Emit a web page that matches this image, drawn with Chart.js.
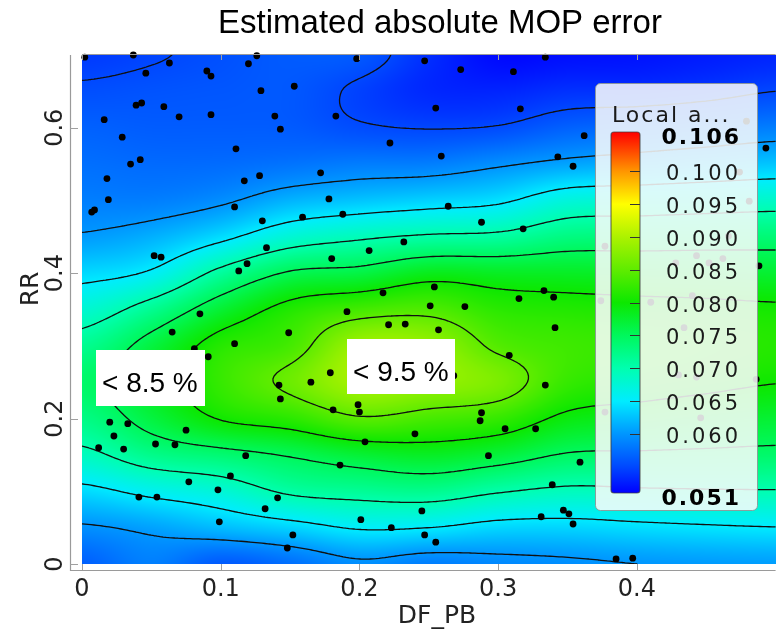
<!DOCTYPE html>
<html><head><meta charset="utf-8">
<script src="https://cdn.jsdelivr.net/npm/chart.js@4.4.1/dist/chart.umd.min.js"></script>
<style>html,body{margin:0;padding:0;background:#fff;overflow:hidden}#wrap{width:779px;height:629px}</style>
</head><body><div id="wrap"><canvas id="c" width="779" height="629"></canvas></div>
<script>
// ---------------- data ----------------
const chartTitle = 'Estimated absolute MOP error';
const xAxisTitle = 'DF_PB';
const yAxisTitle = 'RR';
const xTickValues = [0, 0.1, 0.2, 0.3, 0.4];
const yTickValues = [0, 0.2, 0.4, 0.6];
const xTickLabels = ['0', '0.1', '0.2', '0.3', '0.4'];
const yTickLabels = ['0', '0.2', '0.4', '0.6'];

// sample points (DF_PB, RR)
const pointX = [0.002,0.037,0.063,0.046,0.090,0.093,0.126,0.120,0.198,0.129,0.153,0.039,0.043,0.059,0.070,0.093,0.139,0.183,0.143,0.016,
0.029,0.111,0.035,0.042,0.018,0.117,0.128,0.172,0.019,0.009,0.007,0.110,0.178,0.130,0.159,0.188,0.052,0.057,0.133,0.180,
0.207,0.119,0.113,0.247,0.273,0.311,0.334,0.255,0.316,0.222,0.259,0.343,0.354,0.362,0.264,0.288,0.318,0.232,0.217,0.254,
0.333,0.340,0.315,0.085,0.065,0.110,0.081,0.091,0.149,0.191,0.142,0.165,0.179,0.143,0.181,0.199,0.200,0.020,0.033,0.023,
0.012,0.030,0.053,0.067,0.075,0.118,0.204,0.186,0.107,0.077,0.098,0.141,0.041,0.054,0.132,0.099,0.201,0.152,0.148,0.251,
0.276,0.221,0.233,0.257,0.341,0.308,0.268,0.334,0.288,0.287,0.305,0.327,0.240,0.293,0.359,0.339,0.245,0.347,0.351,0.331,
0.354,0.223,0.247,0.255,0.385,0.397,0.486,0.488,0.493,0.479,0.474,0.481,0.466,0.377,0.443,0.428,0.462,0.452,0.440,0.410,
0.374,0.434,0.430,0.443,0.446,0.377];
const pointY = [0.697,0.700,0.689,0.675,0.678,0.671,0.699,0.688,0.695,0.651,0.657,0.631,0.634,0.629,0.615,0.618,0.616,0.616,0.598,0.611,
0.587,0.571,0.550,0.556,0.530,0.527,0.534,0.538,0.501,0.487,0.484,0.491,0.502,0.472,0.477,0.481,0.424,0.422,0.435,0.420,
0.431,0.413,0.403,0.692,0.680,0.677,0.697,0.627,0.626,0.579,0.561,0.560,0.547,0.589,0.492,0.470,0.461,0.443,0.373,0.381,
0.376,0.367,0.365,0.344,0.319,0.303,0.296,0.285,0.318,0.347,0.246,0.250,0.263,0.227,0.212,0.219,0.209,0.195,0.193,0.176,
0.160,0.158,0.165,0.164,0.184,0.149,0.168,0.136,0.121,0.113,0.102,0.091,0.092,0.092,0.076,0.058,0.061,0.040,0.022,0.355,
0.354,0.329,0.330,0.322,0.325,0.287,0.259,0.246,0.208,0.197,0.186,0.186,0.179,0.149,0.140,0.109,0.073,0.074,0.069,0.065,
0.055,0.050,0.040,0.030,0.007,0.008,0.254,0.410,0.572,0.609,0.539,0.499,0.451,0.437,0.424,0.414,0.420,0.414,0.369,0.360,
0.362,0.325,0.260,0.257,0.201,0.209];

// estimated error field on a regular grid
const gridX = [0, 0.05, 0.10, 0.15, 0.20, 0.25, 0.30, 0.35, 0.40, 0.45, 0.50];
const gridY = [0, 0.05, 0.10, 0.15, 0.20, 0.25, 0.30, 0.35, 0.40, 0.45, 0.50, 0.55, 0.60, 0.65, 0.70];
// one row per gridY value, one column per gridX value
const errorGrid = [
 [0.0565,0.0585,0.0562,0.0575,0.0595,0.0585,0.0591,0.0595,0.0600,0.0603,0.0605],
 [0.0596,0.0607,0.0622,0.0636,0.0653,0.0650,0.0638,0.0637,0.0642,0.0646,0.0649],
 [0.0640,0.0660,0.0676,0.0706,0.0715,0.0720,0.0703,0.0692,0.0695,0.0697,0.0698],
 [0.0690,0.0722,0.0737,0.0753,0.0771,0.0780,0.0768,0.0747,0.0745,0.0743,0.0741],
 [0.0725,0.0765,0.0802,0.0818,0.0846,0.0835,0.0824,0.0792,0.0785,0.0778,0.0772],
 [0.0742,0.0780,0.0825,0.0858,0.0895,0.0885,0.0868,0.0825,0.0815,0.0808,0.0801],
 [0.0718,0.0765,0.0815,0.0834,0.0890,0.0885,0.0843,0.0830,0.0825,0.0820,0.0815],
 [0.0678,0.0718,0.0772,0.0812,0.0833,0.0840,0.0818,0.0813,0.0810,0.0808,0.0805],
 [0.0639,0.0655,0.0711,0.0754,0.0763,0.0785,0.0781,0.0780,0.0778,0.0776,0.0773],
 [0.0603,0.0615,0.0641,0.0677,0.0694,0.0705,0.0709,0.0728,0.0730,0.0733,0.0735],
 [0.0585,0.0585,0.0595,0.0617,0.0627,0.0635,0.0644,0.0672,0.0676,0.0680,0.0684],
 [0.0575,0.0572,0.0573,0.0578,0.0584,0.0585,0.0596,0.0608,0.0615,0.0622,0.0628],
 [0.0566,0.0563,0.0563,0.0562,0.0553,0.0549,0.0552,0.0566,0.0572,0.0578,0.0585],
 [0.0554,0.0557,0.0559,0.0560,0.0546,0.0532,0.0530,0.0537,0.0537,0.0542,0.0550],
 [0.0542,0.0548,0.0555,0.0562,0.0560,0.0535,0.0515,0.0518,0.0520,0.0525,0.0530]
];
const contourLevels = [0.055, 0.060, 0.065, 0.070, 0.075, 0.080, 0.085];

const legendTitle = 'Local a...';
const legendMin = 0.051, legendMax = 0.106;
const legendTickValues = [0.100, 0.095, 0.090, 0.085, 0.080, 0.075, 0.070, 0.065, 0.060];
const legendTickLabels = ['0.100','0.095','0.090','0.085','0.080','0.075','0.070','0.065','0.060'];
const legendEndLabels = ['0.106', '0.051'];

const boxTexts = ['< 8.5 %', '< 9.5 %'];
const boxAnchorX = [0.010, 0.191];
const boxAnchorY = [0.294, 0.309];

// ---------------- helpers ----------------
const colorStops = [
 [0.051, 0, 0, 255],[0.055, 0, 72, 255],[0.060, 0, 150, 255],[0.065, 0, 236, 255],
 [0.070, 0, 255, 175],[0.075, 0, 248, 92],[0.080, 12, 232, 0],[0.085, 95, 236, 0],
 [0.090, 172, 242, 0],[0.095, 255, 255, 0],[0.100, 255, 150, 0],[0.106, 255, 0, 0]];
function colorFor(v){
  if (v <= colorStops[0][0]) return colorStops[0].slice(1);
  for (let k=1;k<colorStops.length;k++){
    if (v <= colorStops[k][0]){
      const a=colorStops[k-1], b=colorStops[k], t=(v-a[0])/(b[0]-a[0]);
      return [a[1]+(b[1]-a[1])*t, a[2]+(b[2]-a[2])*t, a[3]+(b[3]-a[3])*t];
    }
  }
  return colorStops[colorStops.length-1].slice(1);
}
function cr(p0,p1,p2,p3,t){
  return p1 + 0.5*t*(p2-p0 + t*(2*p0-5*p1+4*p2-p3 + t*(3*(p1-p2)+p3-p0)));
}
function fieldAt(x,y){
  const nx=gridX.length, ny=gridY.length;
  const dx=gridX[1]-gridX[0], dy=gridY[1]-gridY[0];
  let gx=(x-gridX[0])/dx, gy=(y-gridY[0])/dy;
  gx=Math.max(0,Math.min(nx-1,gx)); gy=Math.max(0,Math.min(ny-1,gy));
  let i=Math.min(nx-2,Math.floor(gx)), j=Math.min(ny-2,Math.floor(gy));
  const tx=gx-i, ty=gy-j;
  const cl=(v,m)=>Math.max(0,Math.min(m-1,v));
  const rows=[];
  for (let r=-1;r<=2;r++){
    const row=errorGrid[cl(j+r,ny)];
    rows.push(cr(row[cl(i-1,nx)],row[i],row[cl(i+1,nx)],row[cl(i+2,nx)],tx));
  }
  return cr(rows[0],rows[1],rows[2],rows[3],ty);
}

const fieldPlugin = {
  id:'field',
  beforeDatasetsDraw(chart){
    const {ctx, chartArea:a, scales:{x, y}} = chart;
    const w=Math.round(a.right-a.left), h=Math.round(a.bottom-a.top);
    const img=ctx.createImageData(w,h);
    for (let py=0;py<h;py++){
      const yv=y.getValueForPixel(a.top+py+0.5);
      for (let px=0;px<w;px++){
        const xv=x.getValueForPixel(a.left+px+0.5);
        const c=colorFor(fieldAt(xv,yv));
        const o=(py*w+px)*4;
        img.data[o]=c[0]; img.data[o+1]=c[1]; img.data[o+2]=c[2]; img.data[o+3]=255;
      }
    }
    ctx.putImageData(img, Math.round(a.left), Math.round(a.top));
    // contours (marching squares)
    const step=3;
    const pxs=[], pys=[];
    for (let p=a.left;p<a.right;p+=step) pxs.push(p); pxs.push(a.right);
    for (let p=a.top;p<a.bottom;p+=step) pys.push(p); pys.push(a.bottom);
    const nx=pxs.length, ny=pys.length;
    const xv=pxs.map(p=>x.getValueForPixel(p)), yv=pys.map(p=>y.getValueForPixel(p));
    const V=new Float64Array(nx*ny);
    for (let j=0;j<ny;j++) for (let i=0;i<nx;i++) V[j*nx+i]=fieldAt(xv[i],yv[j]);
    ctx.save();
    ctx.beginPath(); ctx.rect(a.left,a.top,a.right-a.left,a.bottom-a.top); ctx.clip();
    ctx.strokeStyle='#101010'; ctx.lineWidth=1.3; ctx.lineJoin='round'; ctx.lineCap='round';
    for (const L of contourLevels){
      ctx.beginPath();
      for (let j=0;j<ny-1;j++) for (let i=0;i<nx-1;i++){
        const A=V[j*nx+i], B=V[j*nx+i+1], C=V[(j+1)*nx+i+1], D=V[(j+1)*nx+i];
        const idx=(A>L?8:0)|(B>L?4:0)|(C>L?2:0)|(D>L?1:0);
        if (idx===0||idx===15) continue;
        const x0=pxs[i], x1=pxs[i+1], y0=pys[j], y1=pys[j+1];
        const T=()=>[x0+(x1-x0)*(L-A)/(B-A), y0];
        const R=()=>[x1, y0+(y1-y0)*(L-B)/(C-B)];
        const Bo=()=>[x0+(x1-x0)*(L-D)/(C-D), y1];
        const Le=()=>[x0, y0+(y1-y0)*(L-A)/(D-A)];
        const seg=(p,q)=>{ctx.moveTo(p[0],p[1]); ctx.lineTo(q[0],q[1]);};
        const ctr=(A+B+C+D)/4;
        switch(idx){
          case 1: case 14: seg(Le(),Bo()); break;
          case 2: case 13: seg(Bo(),R()); break;
          case 3: case 12: seg(Le(),R()); break;
          case 4: case 11: seg(T(),R()); break;
          case 6: case 9: seg(T(),Bo()); break;
          case 7: case 8: seg(Le(),T()); break;
          case 5: if (ctr>L){seg(Le(),T()); seg(Bo(),R());} else {seg(T(),R()); seg(Le(),Bo());} break;
          case 10: if (ctr>L){seg(T(),R()); seg(Le(),Bo());} else {seg(Le(),T()); seg(Bo(),R());} break;
        }
      }
      ctx.stroke();
    }
    ctx.restore();
  }
};

const overlayPlugin = {
  id:'overlay',
  afterDatasetsDraw(chart){
    const {ctx, chartArea:a, scales:{x, y}} = chart;
    ctx.save();
    // label boxes
    ctx.font='28px "Liberation Sans", Arial, sans-serif';
    ctx.textBaseline='alphabetic'; ctx.textAlign='left';
    const boxW=[109,108], boxH=[56,55];
    for (let k=0;k<boxTexts.length;k++){
      const bx=Math.round(x.getPixelForValue(boxAnchorX[k])), by=Math.round(y.getPixelForValue(boxAnchorY[k]));
      ctx.fillStyle='#ffffff'; ctx.fillRect(bx,by,boxW[k],boxH[k]);
      ctx.fillStyle='#000'; ctx.fillText(boxTexts[k], bx+6, by+42);
    }
    // legend panel
    const lx=595, ly=83, lw=162, lh=427;
    ctx.beginPath(); ctx.roundRect(lx+0.5,ly+0.5,lw,lh,5);
    ctx.fillStyle='rgba(249,251,251,0.87)'; ctx.fill();
    ctx.strokeStyle='rgba(140,150,150,0.9)'; ctx.lineWidth=1; ctx.stroke();
    ctx.fillStyle='#1a1a1a';
    ctx.font='22px "DejaVu Sans", sans-serif'; ctx.letterSpacing='2px';
    ctx.textBaseline='alphabetic'; ctx.textAlign='left';
    ctx.fillText(legendTitle, 612, 122);
    const bx=611, by=132, bw=29, bh=361;
    const g=ctx.createLinearGradient(0,by+bh,0,by);
    for (const s of colorStops){
      const t=(s[0]-legendMin)/(legendMax-legendMin);
      g.addColorStop(Math.max(0,Math.min(1,t)), `rgb(${s[1]},${s[2]},${s[3]})`);
    }
    ctx.beginPath(); ctx.roundRect(bx,by,bw,bh,3); ctx.fillStyle=g; ctx.fill();
    ctx.strokeStyle='rgba(60,60,60,0.7)'; ctx.lineWidth=1.2; ctx.stroke();
    const vy=v=>by+(legendMax-v)/(legendMax-legendMin)*bh;
    ctx.strokeStyle='#333'; ctx.lineWidth=1;
    ctx.font='21px "DejaVu Sans", sans-serif'; ctx.letterSpacing='3px';
    ctx.textBaseline='middle'; ctx.textAlign='right';
    ctx.fillStyle='#1a1a1a';
    legendTickValues.forEach((v,k)=>{
      const py=Math.round(vy(v))+0.5;
      ctx.beginPath(); ctx.moveTo(bx+bw-10,py); ctx.lineTo(bx+bw,py); ctx.stroke();
      ctx.fillText(legendTickLabels[k], 741, py+3);
    });
    ctx.font='bold 22px "DejaVu Sans", sans-serif'; ctx.letterSpacing='2px';
    ctx.fillStyle='#000';
    ctx.fillText(legendEndLabels[0], 741, by+6);
    ctx.fillText(legendEndLabels[1], 741, by+bh+6);
    ctx.letterSpacing='0px';
    ctx.restore();
  },
  afterDraw(chart){
    const {ctx, chartArea:a, scales:{x, y}} = chart;
    ctx.save();
    // frame
    ctx.strokeStyle='#9a9a9a'; ctx.lineWidth=1.2;
    ctx.beginPath();
    ctx.moveTo(70.5, a.top); ctx.lineTo(70.5, 570.5); ctx.lineTo(a.right, 570.5);
    ctx.moveTo(a.left, a.top-0.5); ctx.lineTo(a.right, a.top-0.5);
    ctx.stroke();
    ctx.strokeStyle='#a0a0a0'; ctx.lineWidth=1;
    ctx.beginPath();
    xTickValues.forEach(v=>{const px=Math.round(x.getPixelForValue(v))+0.5;
      ctx.moveTo(px,570); ctx.lineTo(px,564); ctx.moveTo(px,a.top); ctx.lineTo(px,a.top+5);});
    yTickValues.forEach(v=>{const py=Math.round(y.getPixelForValue(v))+0.5;
      ctx.moveTo(70,py); ctx.lineTo(78,py);});
    ctx.stroke();
    // tick labels
    ctx.fillStyle='#222';
    ctx.font='24px "DejaVu Sans", sans-serif';
    ctx.textAlign='center'; ctx.textBaseline='middle';
    xTickValues.forEach((v,k)=>ctx.fillText(xTickLabels[k], x.getPixelForValue(v), 590));
    yTickValues.forEach((v,k)=>{
      ctx.save(); ctx.translate(56, y.getPixelForValue(v)); ctx.rotate(-Math.PI/2);
      ctx.fillText(yTickLabels[k],0,0); ctx.restore();
    });
    // axis titles
    ctx.font='25px "DejaVu Sans", sans-serif';
    ctx.textBaseline='alphabetic';
    ctx.fillText(xAxisTitle, 437, 623);
    ctx.save(); ctx.translate(38, 289); ctx.rotate(-Math.PI/2); ctx.fillText(yAxisTitle,0,0); ctx.restore();
    // title
    ctx.fillStyle='#000';
    ctx.font='33px "Liberation Sans", Arial, sans-serif';
    ctx.fillText(chartTitle, 440, 33);
    ctx.restore();
  }
};

new Chart(document.getElementById('c').getContext('2d'), {
  type:'scatter',
  data:{datasets:[{
    data: pointX.map((v,i)=>({x:v, y:pointY[i]})),
    pointRadius:3.4, pointBackgroundColor:'#000', pointBorderColor:'#000', pointBorderWidth:0,
    pointHoverRadius:3.4, clip:false
  }]},
  options:{
    responsive:false, animation:false, devicePixelRatio:1,
    layout:{padding:{left:82, right:0, top:55, bottom:65}},
    plugins:{legend:{display:false}, tooltip:{enabled:false}, title:{display:false}},
    scales:{
      x:{type:'linear', min:0, max:0.5, display:false},
      y:{type:'linear', min:0, max:0.7, display:false}
    }
  },
  plugins:[fieldPlugin, overlayPlugin]
});
</script></body></html>
